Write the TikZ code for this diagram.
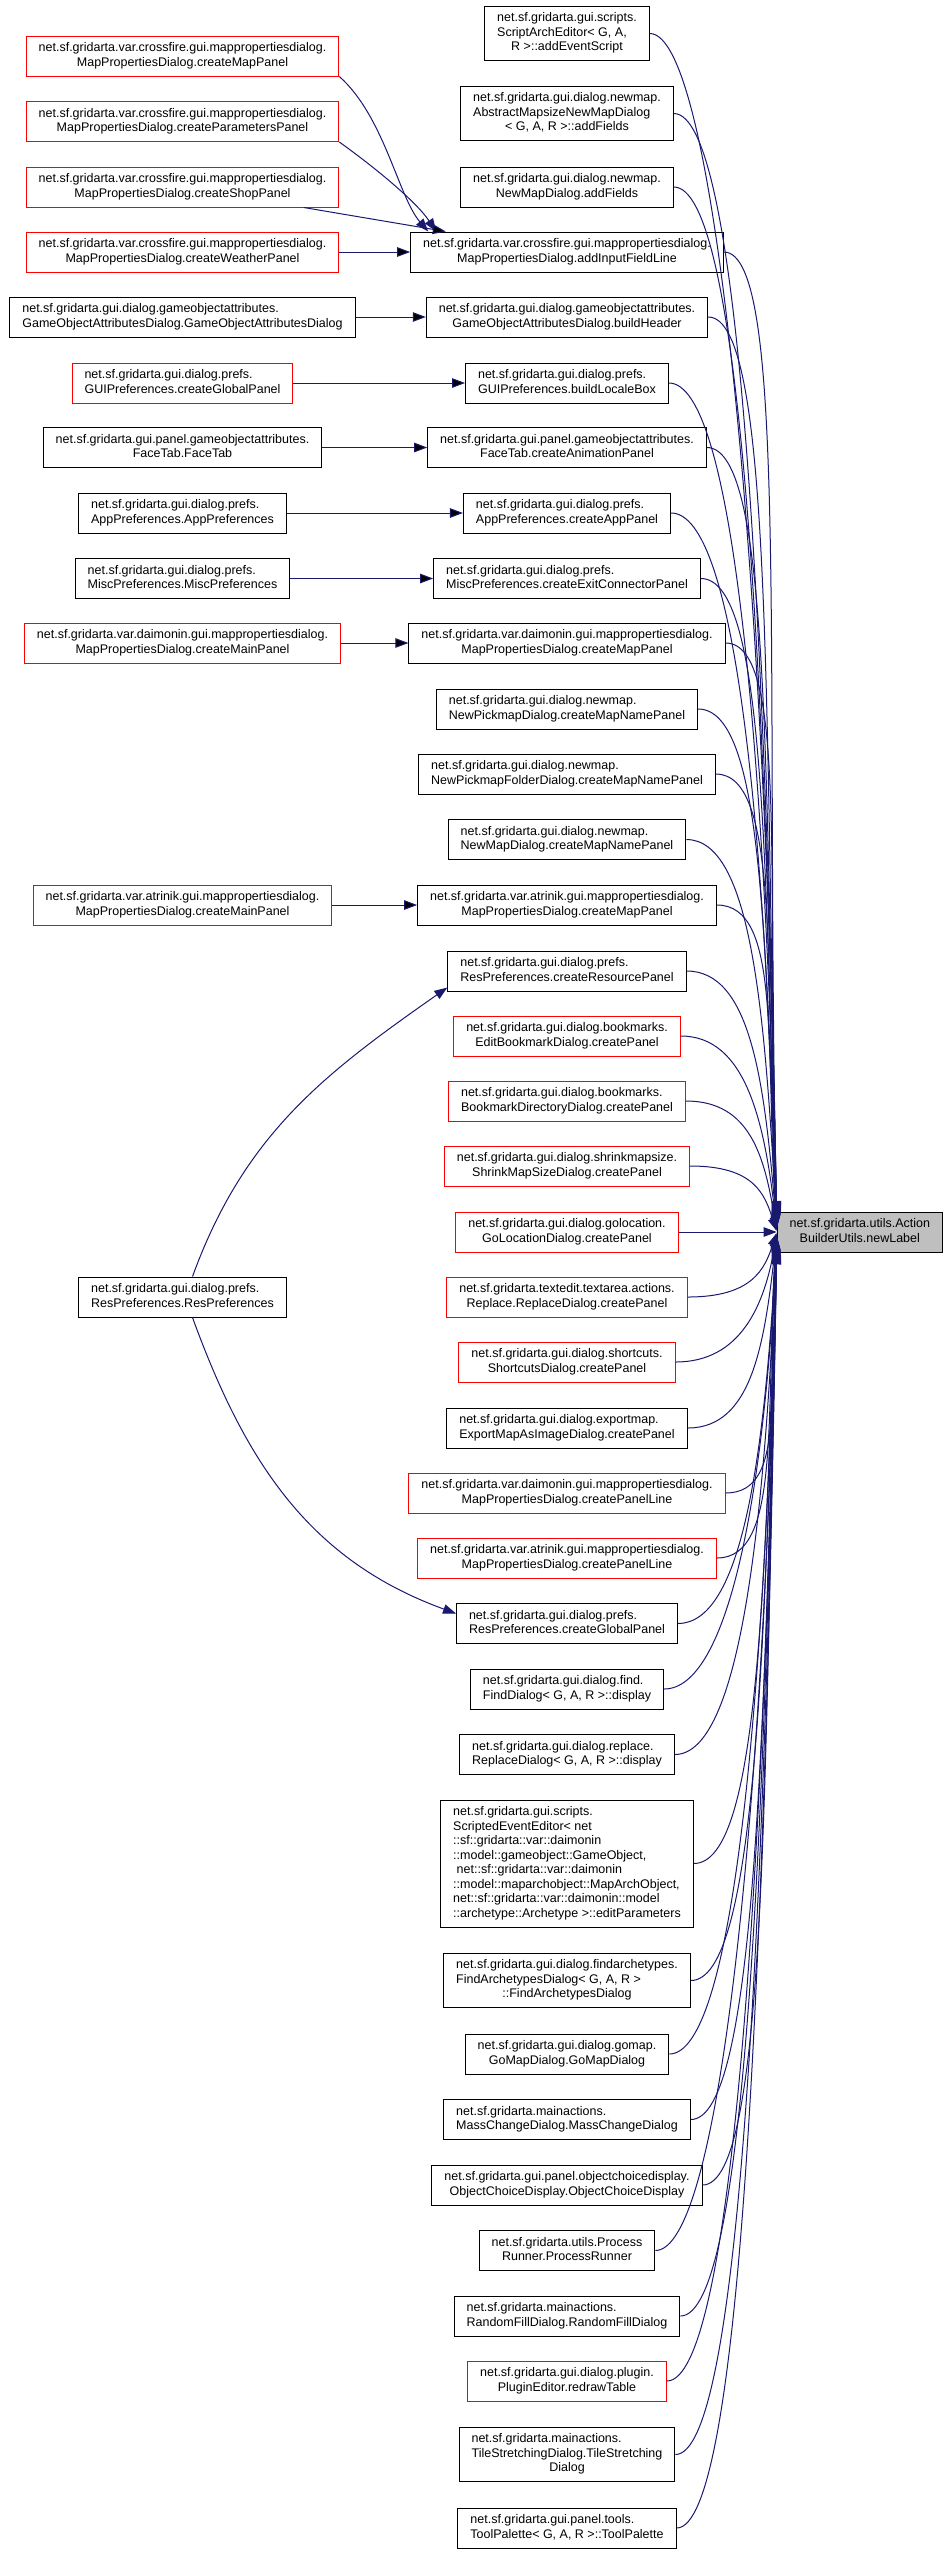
\documentclass[tikz,border=0pt]{standalone}
\usepackage{fontspec}
\setmainfont{Liberation Sans}
\usetikzlibrary{arrows.meta}

\definecolor{edgeblue}{RGB}{25,25,112}
\definecolor{grey75}{RGB}{191,191,191}

% label: left-aligned lines, the last one centred
\newcommand{\fnlabel}[2]{\begin{tabular}{@{}l@{}}#1\\\multicolumn{1}{@{}c@{}}{#2}\end{tabular}}

\begin{document}
\begin{tikzpicture}[x=1pt,y=-1pt,>={Triangle[length=13pt,width=9.5pt]},
	fn/.style={draw=black,fill=white,line width=1pt,inner xsep=12.5pt,inner ysep=5.5pt,
		font=\fontsize{12.5}{14.5}\selectfont},
	cut/.style={fn,draw=red},
	call/.style={->,draw=edgeblue,line width=1pt}]
	\tikzstyle{goal}=[fn,fill=grey75]
	\useasboundingbox (0,0) rectangle (947,2554);

	\node[goal,anchor=east] (newLabel) at (943,1232) {\fnlabel{net.sf.gridarta.utils.Action}{BuilderUtils.newLabel}};

	% direct callers
	\node[fn] (scriptArch) at (567,33.5) {\fnlabel{net.sf.gridarta.gui.scripts.\\ScriptArchEditor< G, A,}{ R >::addEventScript}};
	\node[fn] (absMapsize) at (567,113.5) {\fnlabel{net.sf.gridarta.gui.dialog.newmap.\\AbstractMapsizeNewMapDialog}{< G, A, R >::addFields}};
	\node[fn] (newMapFields) at (567,187) {\fnlabel{net.sf.gridarta.gui.dialog.newmap.}{NewMapDialog.addFields}};
	\node[fn] (addInput) at (567,252) {\fnlabel{net.sf.gridarta.var.crossfire.gui.mappropertiesdialog.}{MapPropertiesDialog.addInputFieldLine}};
	\node[fn] (buildHeader) at (567,317) {\fnlabel{net.sf.gridarta.gui.dialog.gameobjectattributes.}{GameObjectAttributesDialog.buildHeader}};
	\node[fn] (buildLocale) at (567,383) {\fnlabel{net.sf.gridarta.gui.dialog.prefs.}{GUIPreferences.buildLocaleBox}};
	\node[fn] (createAnim) at (567,447.5) {\fnlabel{net.sf.gridarta.gui.panel.gameobjectattributes.}{FaceTab.createAnimationPanel}};
	\node[fn] (createApp) at (567,513) {\fnlabel{net.sf.gridarta.gui.dialog.prefs.}{AppPreferences.createAppPanel}};
	\node[fn] (createExit) at (567,578.5) {\fnlabel{net.sf.gridarta.gui.dialog.prefs.}{MiscPreferences.createExitConnectorPanel}};
	\node[fn] (dmMapPanel) at (567,643) {\fnlabel{net.sf.gridarta.var.daimonin.gui.mappropertiesdialog.}{MapPropertiesDialog.createMapPanel}};
	\node[fn] (pickmapName) at (567,709) {\fnlabel{net.sf.gridarta.gui.dialog.newmap.}{NewPickmapDialog.createMapNamePanel}};
	\node[fn] (pickFolderName) at (567,774) {\fnlabel{net.sf.gridarta.gui.dialog.newmap.}{NewPickmapFolderDialog.createMapNamePanel}};
	\node[fn] (newMapName) at (567,839.5) {\fnlabel{net.sf.gridarta.gui.dialog.newmap.}{NewMapDialog.createMapNamePanel}};
	\node[fn] (atMapPanel) at (567,905) {\fnlabel{net.sf.gridarta.var.atrinik.gui.mappropertiesdialog.}{MapPropertiesDialog.createMapPanel}};
	\node[fn] (resPanel) at (567,971) {\fnlabel{net.sf.gridarta.gui.dialog.prefs.}{ResPreferences.createResourcePanel}};
	\node[cut] (editBookmark) at (567,1036) {\fnlabel{net.sf.gridarta.gui.dialog.bookmarks.}{EditBookmarkDialog.createPanel}};
	\node[cut] (bookmarkDir) at (567,1101) {\fnlabel{net.sf.gridarta.gui.dialog.bookmarks.}{BookmarkDirectoryDialog.createPanel}};
	\node[cut] (shrink) at (567,1166) {\fnlabel{net.sf.gridarta.gui.dialog.shrinkmapsize.}{ShrinkMapSizeDialog.createPanel}};
	\node[cut] (goLocation) at (567,1232) {\fnlabel{net.sf.gridarta.gui.dialog.golocation.}{GoLocationDialog.createPanel}};
	\node[cut] (replacePanel) at (567,1297) {\fnlabel{net.sf.gridarta.textedit.textarea.actions.}{Replace.ReplaceDialog.createPanel}};
	\node[cut] (shortcuts) at (567,1362) {\fnlabel{net.sf.gridarta.gui.dialog.shortcuts.}{ShortcutsDialog.createPanel}};
	\node[fn] (exportMap) at (567,1428) {\fnlabel{net.sf.gridarta.gui.dialog.exportmap.}{ExportMapAsImageDialog.createPanel}};
	\node[cut] (dmPanelLine) at (567,1493) {\fnlabel{net.sf.gridarta.var.daimonin.gui.mappropertiesdialog.}{MapPropertiesDialog.createPanelLine}};
	\node[cut] (atPanelLine) at (567,1558) {\fnlabel{net.sf.gridarta.var.atrinik.gui.mappropertiesdialog.}{MapPropertiesDialog.createPanelLine}};
	\node[fn] (resGlobal) at (567,1623.5) {\fnlabel{net.sf.gridarta.gui.dialog.prefs.}{ResPreferences.createGlobalPanel}};
	\node[fn] (findDisplay) at (567,1689) {\fnlabel{net.sf.gridarta.gui.dialog.find.}{FindDialog< G, A, R >::display}};
	\node[fn] (replaceDisplay) at (567,1754.5) {\fnlabel{net.sf.gridarta.gui.dialog.replace.}{ReplaceDialog< G, A, R >::display}};
	\node[fn] (scriptedEditor) at (567,1863.5) {\fnlabel{net.sf.gridarta.gui.scripts.\\ScriptedEventEditor< net\\::sf::gridarta::var::daimonin\\::model::gameobject::GameObject,\\\ net::sf::gridarta::var::daimonin\\::model::maparchobject::MapArchObject,\\net::sf::gridarta::var::daimonin::model}{::archetype::Archetype >::editParameters}};
	\node[fn] (findArch) at (567,1980.5) {\fnlabel{net.sf.gridarta.gui.dialog.findarchetypes.\\FindArchetypesDialog< G, A, R >}{::FindArchetypesDialog}};
	\node[fn] (goMap) at (567,2054) {\fnlabel{net.sf.gridarta.gui.dialog.gomap.}{GoMapDialog.GoMapDialog}};
	\node[fn] (massChange) at (567,2119.5) {\fnlabel{net.sf.gridarta.mainactions.}{MassChangeDialog.MassChangeDialog}};
	\node[fn] (objChoice) at (567,2185) {\fnlabel{net.sf.gridarta.gui.panel.objectchoicedisplay.}{ObjectChoiceDisplay.ObjectChoiceDisplay}};
	\node[fn] (processRunner) at (567,2250.5) {\fnlabel{net.sf.gridarta.utils.Process}{Runner.ProcessRunner}};
	\node[fn] (randomFill) at (567,2316) {\fnlabel{net.sf.gridarta.mainactions.}{RandomFillDialog.RandomFillDialog}};
	\node[cut] (pluginEditor) at (567,2381) {\fnlabel{net.sf.gridarta.gui.dialog.plugin.}{PluginEditor.redrawTable}};
	\node[fn] (tileStretch) at (567,2454.5) {\fnlabel{net.sf.gridarta.mainactions.\\TileStretchingDialog.TileStretching}{Dialog}};
	\node[fn] (toolPalette) at (567,2528) {\fnlabel{net.sf.gridarta.gui.panel.tools.}{ToolPalette< G, A, R >::ToolPalette}};

	% second level callers
	\node[cut] (cfMap) at (182.5,56) {\fnlabel{net.sf.gridarta.var.crossfire.gui.mappropertiesdialog.}{MapPropertiesDialog.createMapPanel}};
	\node[cut] (cfParam) at (182.5,121.5) {\fnlabel{net.sf.gridarta.var.crossfire.gui.mappropertiesdialog.}{MapPropertiesDialog.createParametersPanel}};
	\node[cut] (cfShop) at (182.5,187) {\fnlabel{net.sf.gridarta.var.crossfire.gui.mappropertiesdialog.}{MapPropertiesDialog.createShopPanel}};
	\node[cut] (cfWeather) at (182.5,252) {\fnlabel{net.sf.gridarta.var.crossfire.gui.mappropertiesdialog.}{MapPropertiesDialog.createWeatherPanel}};
	\node[fn] (goaDialog) at (182.5,317) {\fnlabel{net.sf.gridarta.gui.dialog.gameobjectattributes.}{GameObjectAttributesDialog.GameObjectAttributesDialog}};
	\node[cut] (guiGlobal) at (182.5,383) {\fnlabel{net.sf.gridarta.gui.dialog.prefs.}{GUIPreferences.createGlobalPanel}};
	\node[fn] (faceTab) at (182.5,447.5) {\fnlabel{net.sf.gridarta.gui.panel.gameobjectattributes.}{FaceTab.FaceTab}};
	\node[fn] (appPrefs) at (182.5,513) {\fnlabel{net.sf.gridarta.gui.dialog.prefs.}{AppPreferences.AppPreferences}};
	\node[fn] (miscPrefs) at (182.5,578.5) {\fnlabel{net.sf.gridarta.gui.dialog.prefs.}{MiscPreferences.MiscPreferences}};
	\node[cut] (dmMain) at (182.5,643) {\fnlabel{net.sf.gridarta.var.daimonin.gui.mappropertiesdialog.}{MapPropertiesDialog.createMainPanel}};
	\node[cut] (atMain) at (182.5,905) {\fnlabel{net.sf.gridarta.var.atrinik.gui.mappropertiesdialog.}{MapPropertiesDialog.createMainPanel}};
	\node[fn] (resPrefs) at (182.5,1297) {\fnlabel{net.sf.gridarta.gui.dialog.prefs.}{ResPreferences.ResPreferences}};

	% edges into newLabel
	\foreach \n/\ys in {scriptArch/33.5,absMapsize/113.5,newMapFields/187,addInput/252,buildHeader/317,
		buildLocale/383,createAnim/447.5,createApp/513,createExit/578.5,dmMapPanel/643,pickmapName/709,
		pickFolderName/774,newMapName/839.5,atMapPanel/905,resPanel/971,editBookmark/1036,
		bookmarkDir/1101,shrink/1166,goLocation/1232,replacePanel/1297,shortcuts/1362,exportMap/1428,
		dmPanelLine/1493,atPanelLine/1558,resGlobal/1623.5,findDisplay/1689,replaceDisplay/1754.5,
		scriptedEditor/1863.5,findArch/1980.5,goMap/2054,massChange/2119.5,objChoice/2185,
		processRunner/2250.5,randomFill/2316,pluginEditor/2381,tileStretch/2454.5,toolPalette/2528}
	{
		\pgfmathsetmacro\dy{\ys-1232}
		\pgfmathsetmacro\ey{-0.015*\dy}
		\draw[call] (\n.east) .. controls +(65,0) and +(-12,{0.55*\dy}) .. ([yshift=\ey pt]newLabel.west);
	}

	% edges from the left column
	\draw[call] (cfMap.south east) .. controls +(45,40) and +(-30,-35) .. ([xshift=18pt]addInput.north west);
	\draw[call] (cfParam.south east) .. controls +(35,25) and +(-20,-30) .. ([xshift=26pt]addInput.north west);
	\path[call] (cfShop) edge (addInput);
	\path[call] (cfWeather) edge (addInput);
	\path[call] (goaDialog) edge (buildHeader);
	\path[call] (guiGlobal) edge (buildLocale);
	\path[call] (faceTab) edge (createAnim);
	\path[call] (appPrefs) edge (createApp);
	\path[call] (miscPrefs) edge (createExit);
	\path[call] (dmMain) edge (dmMapPanel);
	\path[call] (atMain) edge (atMapPanel);
	\draw[call] ([xshift=10pt]resPrefs.north) to[out=70,in=215] ([yshift=4pt]resPanel.south west);
	\draw[call] ([xshift=10pt]resPrefs.south) to[out=-70,in=160] ([yshift=10pt]resGlobal.west);
\end{tikzpicture}
\end{document}
